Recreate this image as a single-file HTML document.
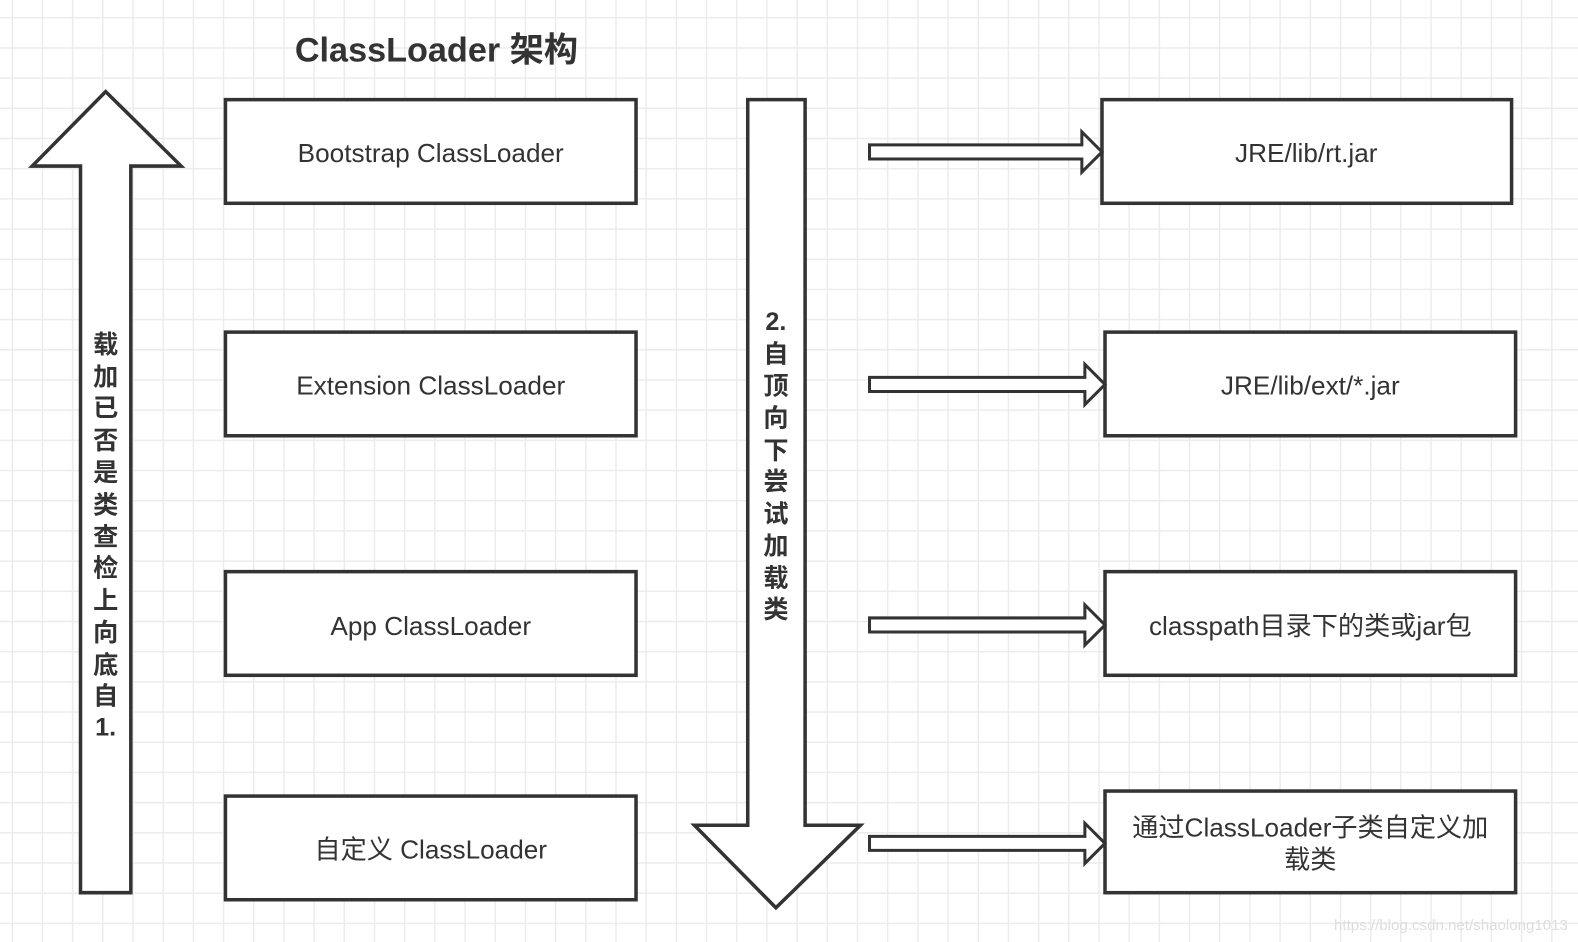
<!DOCTYPE html>
<html><head><meta charset="utf-8"><style>
body{margin:0;width:1578px;height:942px;overflow:hidden;background:#fff;
background-image:linear-gradient(90deg,#ececec 1.5px,transparent 1.5px),linear-gradient(#ececec 1.5px,transparent 1.5px);
background-size:30.19px 30.19px;background-position:11.5px 17px;font-family:"Liberation Sans","Noto Sans CJK SC",sans-serif;}
svg{position:absolute;left:0;top:0}
</style></head><body>
<svg width="1578" height="942" viewBox="0 0 1568 936" preserveAspectRatio="none">
<g fill="#fff" stroke="#333" stroke-width="3.5" stroke-linejoin="miter">
<polygon points="105,91 180,165 130,165 130,887 80,887 80,165 32,165"/>
<polygon points="743,99 800,99 800,820 855,820 771,902 690,820 743,820"/>
<rect x="224" y="99" width="408" height="103"/>
<rect x="224" y="330" width="408" height="103"/>
<rect x="224" y="568" width="408" height="103"/>
<rect x="224" y="791" width="408" height="103"/>
<rect x="1095" y="99" width="407" height="103"/>
<rect x="1098" y="330" width="408" height="103"/>
<rect x="1098" y="568" width="408" height="103"/>
<rect x="1098" y="786" width="408" height="101"/>
<polygon stroke-width="3" points="864,144 1075,144 1075,131 1095,151 1075,171 1075,158 864,158"/>
<polygon stroke-width="3" points="864,375 1078,375 1078,362 1098,382 1078,402 1078,389 864,389"/>
<polygon stroke-width="3" points="864,614 1078,614 1078,601 1098,621 1078,641 1078,628 864,628"/>
<polygon stroke-width="3" points="864,831 1078,831 1078,818 1098,838 1078,858 1078,845 864,845"/>
</g>
<g font-size="26" fill="#333" text-anchor="middle" font-family="Liberation Sans,Noto Sans CJK SC,sans-serif">
<text x="428" y="161">Bootstrap ClassLoader</text>
<text x="428" y="392">Extension ClassLoader</text>
<text x="428" y="631">App ClassLoader</text>
<text x="428" y="853">自定义 ClassLoader</text>
<text x="1298" y="161">JRE/lib/rt.jar</text>
<text x="1302" y="392">JRE/lib/ext/*.jar</text>
<text x="1302" y="631">classpath目录下的类或jar包</text>
<text x="1302" y="831">通过ClassLoader子类自定义加</text>
<text x="1302" y="863">载类</text>
</g>
<text x="293" y="61" font-size="34" font-weight="bold" fill="#333">ClassLoader 架构</text>
<g font-size="25" font-weight="bold" fill="#333" text-anchor="middle">
<text x="105" y="351">载</text><text x="105" y="383">加</text><text x="105" y="414">已</text><text x="105" y="446">否</text><text x="105" y="478">是</text><text x="105" y="510">类</text><text x="105" y="542">查</text><text x="105" y="573">检</text><text x="105" y="605">上</text><text x="105" y="637">向</text><text x="105" y="669">底</text><text x="105" y="700">自</text><text x="105" y="731">1.</text>
<text x="771" y="328">2.</text><text x="771" y="360">自</text><text x="771" y="392">顶</text><text x="771" y="424">向</text><text x="771" y="456">下</text><text x="771" y="487">尝</text><text x="771" y="519">试</text><text x="771" y="551">加</text><text x="771" y="583">载</text><text x="771" y="614">类</text>
</g>
<text x="1558" y="924" font-size="15" fill="#ddd" text-anchor="end">https://blog.csdn.net/shaolong1013</text>
</svg>
</body></html>
